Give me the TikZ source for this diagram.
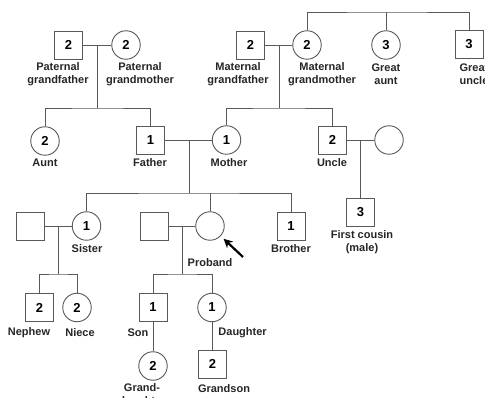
\documentclass[tikz,border=0pt]{standalone}
\usepackage{fontspec}
\setmainfont{Liberation Sans}
\usetikzlibrary{arrows.meta}
\begin{document}
\begin{tikzpicture}[x=1pt,y=-1pt,
  line width=0.9pt,
  sq/.style={draw=black!65, rectangle, minimum size=28pt, inner sep=0pt, font=\bfseries\fontsize{13}{13}\selectfont},
  ci/.style={draw=black!65, circle, minimum size=28.5pt, inner sep=0pt, font=\bfseries\fontsize{13}{13}\selectfont},
  lbl/.style={align=center, inner sep=0pt, font=\bfseries\fontsize{11}{13}\selectfont, text=black!85},
  con/.style={draw=black!65, line width=0.9pt},
  pointer/.style={draw=black, line width=2.2pt, -{Stealth[length=9pt,width=9pt]}}
]
\useasboundingbox (0,0) rectangle (485,398);
\fill[white] (0,0) rectangle (485,398);

% top generation
\node[sq] (pgf) at (68.5,45) {2};
\node[ci] (pgm) at (126,45) {2};
\node[sq] (mgf) at (250.5,45) {2};
\node[ci] (mgm) at (307,45) {2};
\node[ci] (gaunt) at (386,45) {3};
\node[sq] (guncle) at (469,44) {3};

\node[lbl] (lpgf) at (58,74.5) {Paternal\\grandfather};
\node[lbl] (lpgm) at (140,74.5) {Paternal\\grandmother};
\node[lbl] (lmgf) at (238,74.5) {Maternal\\grandfather};
\node[lbl] (lmgm) at (322,74.5) {Maternal\\grandmother};
\node[lbl] (lga) at (386,74.5) {Great\\aunt};
\node[lbl] (lgu) at (474,74.5) {Great\\uncle};

% second generation
\node[ci] (aunt) at (45,141) {2};
\node[sq] (father) at (150.5,140) {1};
\node[ci] (mother) at (226.5,140) {1};
\node[sq] (uncle) at (332.5,140) {2};
\node[ci] (uwife) at (389,140) {};
\node[sq] (cousin) at (360.5,212) {3};

\node[lbl] (launt) at (45,163) {Aunt};
\node[lbl] (lfather) at (150,163) {Father};
\node[lbl] (lmother) at (229,163) {Mother};
\node[lbl] (luncle) at (332,163) {Uncle};
\node[lbl] (lcousin) at (362,242.5) {First cousin\\(male)};

% third generation
\node[sq] (ssp) at (30,226) {};
\node[ci] (sister) at (86.5,226) {1};
\node[sq] (psp) at (154,226) {};
\node[ci] (proband) at (210,226) {};
\node[sq] (brother) at (291,226) {1};

\node[lbl] (lsister) at (87,249) {Sister};
\node[lbl] (lproband) at (210,263) {Proband};
\node[lbl] (lbrother) at (291,249) {Brother};

% fourth generation
\node[sq] (nephew) at (39.5,307.5) {2};
\node[ci] (niece) at (77,307.5) {2};
\node[sq] (son) at (153,307.5) {1};
\node[ci] (daughter) at (212,307.5) {1};

\node[lbl] (lnephew) at (29,333) {Nephew};
\node[lbl] (lniece) at (80,333) {Niece};
\node[lbl] (lson) at (138,333) {Son};
\node[lbl, anchor=west] (ldaughter) at (218,333) {Daughter};

% fifth generation
\node[ci] (gdau) at (153,366) {2};
\node[sq] (gson) at (212.5,364) {2};
\node[lbl] (lgdau) at (142,395.5) {Grand-\\daughter};
\node[lbl] (lgson) at (224,389) {Grandson};

% connectors
\coordinate (pc) at (97,45);
\coordinate (ps) at (97,108);
\draw[con] (pgf) -- (pgm);
\draw[con] (pc) -- (ps);
\draw[con] (aunt.north) |- (ps) -| (father.north);

\coordinate (mc) at (279,45);
\coordinate (ms) at (279,108);
\draw[con] (mgf) -- (mgm);
\draw[con] (mc) -- (ms);
\draw[con] (mother.north) |- (ms) -| (uncle.north);

\coordinate (ts) at (386,12);
\draw[con] (mgm.north) |- (ts) -| (guncle.north);
\draw[con] (ts) -- (gaunt.north);

\coordinate (fc) at (189,140);
\coordinate (fs) at (189,193);
\draw[con] (father) -- (mother);
\draw[con] (fc) -- (fs);
\draw[con] (sister.north) |- (fs) -| (brother.north);
\draw[con] (proband.north) -- (proband.north |- fs);

\coordinate (uc) at (360.5,140);
\draw[con] (uncle) -- (uwife);
\draw[con] (uc) -- (cousin.north);

\coordinate (sc) at (58,226);
\coordinate (ss) at (58,274);
\draw[con] (ssp) -- (sister);
\draw[con] (sc) -- (ss);
\draw[con] (nephew.north) |- (ss) -| (niece.north);

\coordinate (prc) at (182,226);
\coordinate (prs) at (182,274);
\draw[con] (psp) -- (proband);
\draw[con] (prc) -- (prs);
\draw[con] (son.north) |- (prs) -| (daughter.north);

\draw[con] (son.south) -- (gdau.north);
\draw[con] (daughter.south) -- (daughter.south |- gson.north);

% proband arrow
\coordinate (arrtail) at (243,257);
\draw[pointer, shorten >=4pt] (arrtail) -- (proband);
\end{tikzpicture}
\end{document}
